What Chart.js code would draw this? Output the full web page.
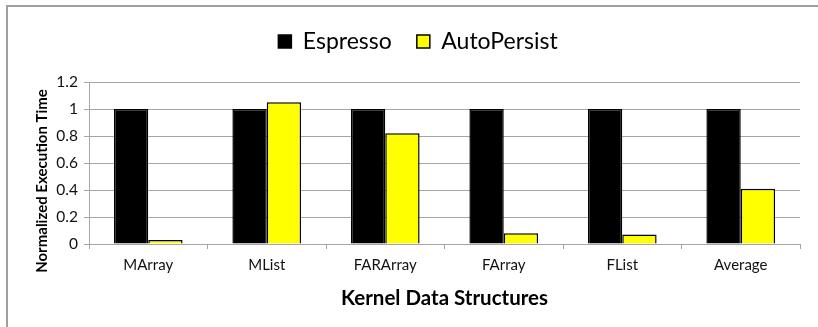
<!DOCTYPE html>
<html>
<head>
<meta charset="utf-8">
<script src="https://cdn.jsdelivr.net/npm/chart.js@4"></script>
<style>
  html, body { margin: 0; padding: 0; background: #fff; }
  #wrap { width: 818px; height: 327px; }
</style>
</head>
<body>
<div id="wrap"><canvas id="c" width="818" height="327"></canvas></div>
<script>
const categories = ["MArray", "MList", "FARArray", "FArray", "FList", "Average"];
const espresso = [1, 1, 1, 1, 1, 1];
const autoPersist = [0.03, 1.05, 0.82, 0.08, 0.07, 0.41];
const yTicks = [0, 0.2, 0.4, 0.6, 0.8, 1, 1.2];

const FONT = "Lato, 'Noto Sans', sans-serif";
const GRID = "#a6a6a6";

// gray frame round the chart, only top and left show in the picture
const frame = {
    id: "frame",
    beforeDraw(chart){
        const ctx = chart.ctx;
        ctx.save();
        ctx.strokeStyle = "#a0a0a0";
        ctx.lineWidth = 2;
        ctx.beginPath();
        ctx.moveTo(7, 327);
        ctx.lineTo(7, 6);
        ctx.lineTo(818, 6);
        ctx.stroke();
        ctx.restore();
    }
};

// y axis title, sits a bit lower than the plot centre like in excel
const yTitle = {
    id: "yTitle",
    afterDraw(chart){
        const ctx = chart.ctx;
        ctx.save();
        ctx.translate(42, 181);
        ctx.rotate(-Math.PI/2);
        ctx.font = "bold 15px " + FONT;
        ctx.fillStyle = "#000";
        ctx.textAlign = "center";
        ctx.textBaseline = "middle";
        ctx.fillText("Normalized Execution Time", 0, 0);
        ctx.restore();
    }
};

// fixed legend height so the plot starts where the reference does
const legendHeight = {
    id: "legendHeight",
    beforeInit(chart){
        const fit = chart.legend.fit;
        chart.legend.fit = function(){
            fit.bind(chart.legend)();
            this.height = 77;
        };
    }
};

new Chart(document.getElementById("c"), {
    type: "bar",
    data: {
        labels: categories,
        datasets: [
            {
                label: "Espresso",
                data: espresso,
                backgroundColor: "#000000",
                borderColor: "#000000",
                borderWidth: 1.5,
                categoryPercentage: 0.58,
                barPercentage: 1
            },
            {
                label: "AutoPersist",
                data: autoPersist,
                backgroundColor: "#ffff00",
                borderColor: "#000000",
                borderWidth: 1.5,
                categoryPercentage: 0.58,
                barPercentage: 1
            }
        ]
    },
    options: {
        responsive: false,
        animation: false,
        layout: { padding: { left: 36, right: 18, top: 5, bottom: 0 } },
        plugins: {
            tooltip: { enabled: false },
            legend: {
                position: "top",
                labels: {
                    color: "#000",
                    font: { family: FONT, size: 23 },
                    boxWidth: 13,
                    boxHeight: 13,
                    padding: 25
                }
            }
        },
        scales: {
            x: {
                grid: {
                    display: true,
                    drawOnChartArea: false,
                    offset: true,
                    color: GRID,
                    tickLength: 5
                },
                border: { color: GRID, width: 1 },
                ticks: {
                    color: "#111",
                    font: { family: FONT, size: 15 },
                    padding: 7,
                    maxRotation: 0
                },
                title: {
                    display: true,
                    text: "Kernel Data Structures",
                    color: "#000",
                    font: { family: FONT, size: 20.5, weight: "bold" },
                    padding: { top: 0, bottom: 16 }
                },
                afterFit(scale){ scale.height = 83; }
            },
            y: {
                min: 0,
                max: 1.2,
                afterBuildTicks(scale){
                    scale.ticks = yTicks.map(v => ({ value: v }));
                },
                grid: {
                    color: GRID,
                    tickLength: 5
                },
                border: { color: GRID, width: 1 },
                ticks: {
                    color: "#111",
                    font: { family: FONT, size: 15.5 },
                    padding: 6,
                    callback: v => String(v)
                },
                afterFit(scale){ scale.width = 53; }
            }
        }
    },
    plugins: [frame, yTitle, legendHeight]
});
</script>
</body>
</html>
